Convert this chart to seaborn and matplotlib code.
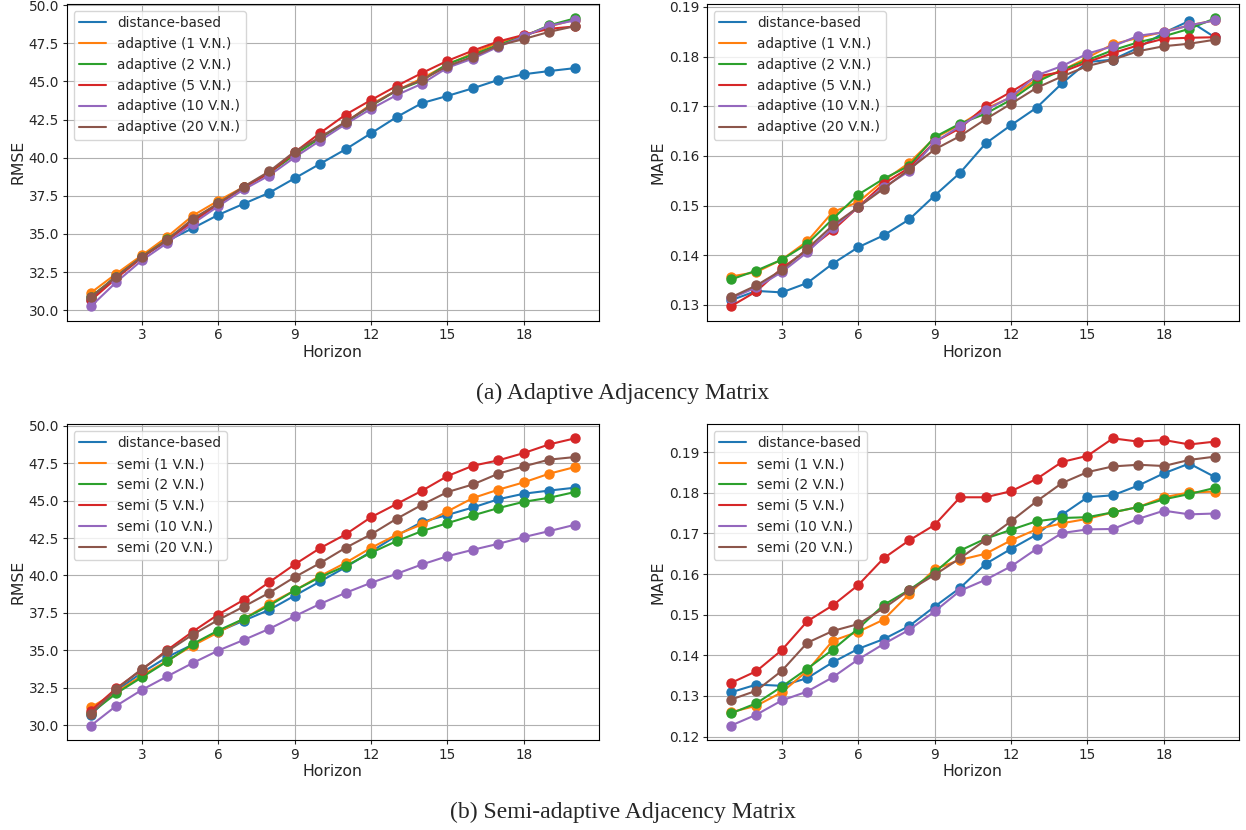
import matplotlib
matplotlib.use("Agg")
import matplotlib.pyplot as plt
from matplotlib.lines import Line2D
import pandas as pd
import seaborn as sns

horizon = list(range(1, 21))

# distance-based baseline (shared by both figures)
dist_rmse = [30.7, 32.3, 33.5, 34.55, 35.38, 36.25, 36.98, 37.7, 38.65, 39.6,
             40.55, 41.6, 42.66, 43.58, 44.05, 44.55, 45.1, 45.47, 45.68, 45.87]
dist_mape = [0.1309, 0.1328, 0.1325, 0.1344, 0.1383, 0.1416, 0.1440, 0.1472, 0.1520, 0.1566,
             0.1625, 0.1662, 0.1697, 0.1746, 0.1789, 0.1794, 0.1818, 0.1848, 0.1872, 0.1839]

# adaptive adjacency matrix, RMSE
ada_rmse_1 = [31.15, 32.4, 33.6, 34.82, 36.2, 37.18, 38.08, 39.0, 40.2, 41.3,
              42.3, 43.5, 44.4, 45.2, 46.1, 46.85, 47.55, 48.0, 48.6, 49.05]
ada_rmse_2 = [30.9, 32.2, 33.5, 34.65, 35.9, 37.0, 38.05, 39.0, 40.2, 41.3,
              42.3, 43.4, 44.4, 45.05, 46.15, 46.75, 47.4, 47.95, 48.68, 49.13]
ada_rmse_5 = [30.65, 32.1, 33.45, 34.6, 35.8, 36.95, 38.05, 39.0, 40.35, 41.62,
              42.82, 43.78, 44.7, 45.55, 46.35, 47.02, 47.62, 48.05, 48.45, 48.6]
ada_rmse_10 = [30.26, 31.85, 33.27, 34.42, 35.68, 36.82, 37.92, 38.83, 40.02, 41.12,
               42.2, 43.2, 44.1, 44.85, 45.9, 46.5, 47.28, 47.95, 48.65, 49.0]
ada_rmse_20 = [30.87, 32.2, 33.5, 34.62, 35.99, 37.0, 38.1, 39.1, 40.4, 41.35,
               42.35, 43.42, 44.42, 45.1, 46.0, 46.62, 47.35, 47.78, 48.25, 48.62]

# adaptive adjacency matrix, MAPE
ada_mape_1 = [0.1357, 0.1366, 0.1391, 0.1428, 0.1487, 0.1507, 0.1550, 0.1586, 0.1636, 0.1663,
              0.1695, 0.1718, 0.1754, 0.1772, 0.1798, 0.1825, 0.1838, 0.1850, 0.1863, 0.1873]
ada_mape_2 = [0.1351, 0.1369, 0.1391, 0.1423, 0.1473, 0.1522, 0.1554, 0.1580, 0.1638, 0.1665,
              0.1685, 0.1713, 0.1749, 0.1773, 0.1793, 0.1813, 0.1829, 0.1841, 0.1856, 0.1877]
ada_mape_5 = [0.1297, 0.1327, 0.1374, 0.1410, 0.1450, 0.1497, 0.1544, 0.1576, 0.1628, 0.1656,
              0.1700, 0.1729, 0.1760, 0.1769, 0.1789, 0.1807, 0.1823, 0.1836, 0.1838, 0.1839]
ada_mape_10 = [0.1313, 0.1335, 0.1366, 0.1406, 0.1455, 0.1497, 0.1537, 0.1569, 0.1628, 0.1660,
               0.1692, 0.1719, 0.1762, 0.1781, 0.1806, 0.1821, 0.1842, 0.1849, 0.1863, 0.1873]
ada_mape_20 = [0.1315, 0.1339, 0.1370, 0.1413, 0.1460, 0.1497, 0.1534, 0.1573, 0.1613, 0.1640,
               0.1674, 0.1705, 0.1737, 0.1760, 0.1781, 0.1794, 0.1811, 0.1821, 0.1826, 0.1834]

# semi-adaptive adjacency matrix, RMSE
semi_rmse_1 = [31.18, 32.2, 33.3, 34.31, 35.31, 36.2, 37.1, 38.1, 39.0, 39.96,
               40.85, 41.85, 42.72, 43.42, 44.29, 45.18, 45.74, 46.23, 46.81, 47.25]
semi_rmse_2 = [30.8, 32.12, 33.19, 34.26, 35.42, 36.32, 37.1, 37.99, 39.0, 39.89,
               40.63, 41.52, 42.3, 42.97, 43.5, 44.02, 44.51, 44.93, 45.2, 45.58]
semi_rmse_5 = [30.96, 32.46, 33.7, 35.02, 36.25, 37.39, 38.37, 39.55, 40.74, 41.83,
               42.75, 43.9, 44.78, 45.67, 46.65, 47.34, 47.7, 48.19, 48.77, 49.17]
semi_rmse_10 = [29.96, 31.29, 32.35, 33.26, 34.15, 34.98, 35.69, 36.43, 37.28, 38.1,
                38.84, 39.51, 40.11, 40.74, 41.29, 41.72, 42.12, 42.57, 42.97, 43.39]
semi_rmse_20 = [30.74, 32.4, 33.75, 34.93, 36.05, 37.03, 37.92, 38.84, 39.89, 40.83,
                41.85, 42.75, 43.79, 44.73, 45.58, 46.09, 46.81, 47.3, 47.75, 47.92]

# semi-adaptive adjacency matrix, MAPE
semi_mape_1 = [0.1260, 0.1276, 0.1309, 0.1362, 0.1436, 0.1458, 0.1488, 0.1551, 0.1612, 0.1635,
               0.1650, 0.1683, 0.1710, 0.1725, 0.1736, 0.1752, 0.1765, 0.1789, 0.1801, 0.1803]
semi_mape_2 = [0.1257, 0.1282, 0.1323, 0.1367, 0.1414, 0.1466, 0.1524, 0.1561, 0.1604, 0.1658,
               0.1687, 0.1709, 0.1730, 0.1738, 0.1740, 0.1752, 0.1765, 0.1784, 0.1797, 0.1812]
semi_mape_5 = [0.1332, 0.1361, 0.1413, 0.1484, 0.1523, 0.1573, 0.1639, 0.1683, 0.1721, 0.1789,
               0.1789, 0.1804, 0.1834, 0.1876, 0.1891, 0.1934, 0.1926, 0.1930, 0.1919, 0.1926]
semi_mape_10 = [0.1227, 0.1254, 0.1289, 0.1311, 0.1346, 0.1390, 0.1428, 0.1463, 0.1508, 0.1559,
                0.1586, 0.1619, 0.1662, 0.1701, 0.1710, 0.1711, 0.1736, 0.1756, 0.1747, 0.1749]
semi_mape_20 = [0.1291, 0.1313, 0.1362, 0.1431, 0.1460, 0.1477, 0.1516, 0.1560, 0.1598, 0.1639,
                0.1684, 0.1730, 0.1779, 0.1824, 0.1851, 0.1865, 0.1869, 0.1866, 0.1881, 0.1889]

vn_counts = [1, 2, 5, 10, 20]
x_ticks = [3, 6, 9, 12, 15, 18]

sns.set_style("ticks", {"axes.grid": True, "grid.color": "#b0b0b0",
                        "axes.edgecolor": "black", "grid.linestyle": "-"})
plt.rcParams.update({
    "font.family": ["DejaVu Sans"],
    "xtick.labelsize": 9.8,
    "ytick.labelsize": 9.8,
    "axes.labelsize": 11.3,
    "legend.fontsize": 9.8,
    "grid.linewidth": 0.8,
    "axes.linewidth": 0.8,
    "xtick.major.size": 3,
    "ytick.major.size": 3,
    "xtick.major.pad": 2.5,
    "ytick.major.pad": 2.5,
    "axes.labelpad": 2.0,
})

palette = sns.color_palette("tab10", 6)


def long_frame(base, series, prefix, metric):
    rows = []
    names = ["distance-based"] + [f"{prefix} ({n} V.N.)" for n in vn_counts]
    for name, vals in zip(names, [base] + series):
        for h, v in zip(horizon, vals):
            rows.append({"Horizon": h, metric: v, "model": name})
    return pd.DataFrame(rows), names


def draw(ax, base, series, prefix, metric):
    df, names = long_frame(base, series, prefix, metric)
    sns.lineplot(data=df, x="Horizon", y=metric, hue="model", hue_order=names,
                 palette=palette, marker="o", markersize=6.5,
                 markeredgecolor="auto", markeredgewidth=1, linewidth=1.5,
                 legend=False, ax=ax)
    ax.set_xticks(x_ticks)
    ax.grid(True, color="#b0b0b0", linewidth=0.8)
    ax.set_axisbelow(True)
    handles = [Line2D([], [], color=c, linewidth=1.5) for c in palette]
    ax.legend(handles, names, loc="upper left", framealpha=0.8)


fig = plt.figure(figsize=(12.46, 8.30), dpi=100)
W, H = 1246, 830


def place(left, top, right, bottom):
    return fig.add_axes([left / W, 1 - bottom / H, (right - left) / W, (bottom - top) / H])


ax_a_rmse = place(66.7, 4, 599, 320.7)
ax_a_mape = place(706.7, 4, 1239, 320.7)
ax_s_rmse = place(66.7, 424, 599, 740)
ax_s_mape = place(706.7, 424, 1239, 740)

draw(ax_a_rmse, dist_rmse, [ada_rmse_1, ada_rmse_2, ada_rmse_5, ada_rmse_10, ada_rmse_20],
     "adaptive", "RMSE")
draw(ax_a_mape, dist_mape, [ada_mape_1, ada_mape_2, ada_mape_5, ada_mape_10, ada_mape_20],
     "adaptive", "MAPE")
draw(ax_s_rmse, dist_rmse, [semi_rmse_1, semi_rmse_2, semi_rmse_5, semi_rmse_10, semi_rmse_20],
     "semi", "RMSE")
draw(ax_s_mape, dist_mape, [semi_mape_1, semi_mape_2, semi_mape_5, semi_mape_10, semi_mape_20],
     "semi", "MAPE")

fig.text(623 / W, 1 - 393 / H, "(a) Adaptive Adjacency Matrix", ha="center", va="center",
         family=["Liberation Serif"], fontsize=17)
fig.text(623 / W, 1 - 812 / H, "(b) Semi-adaptive Adjacency Matrix", ha="center", va="center",
         family=["Liberation Serif"], fontsize=17)

fig.savefig("out.png", dpi=100)
